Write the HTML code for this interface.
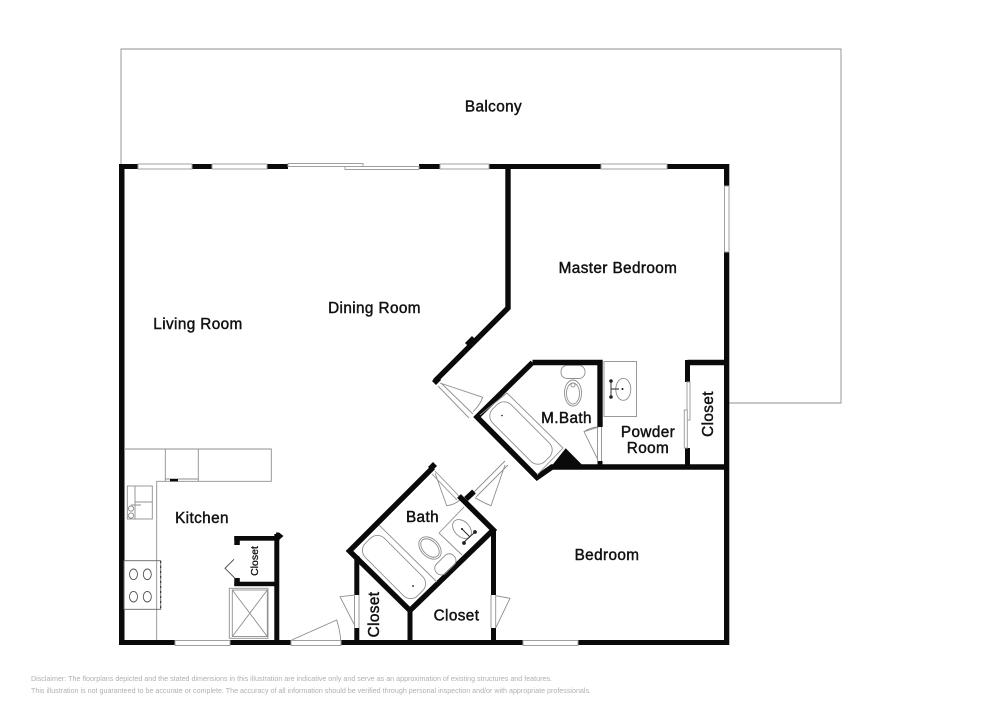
<!DOCTYPE html>
<html><head><meta charset="utf-8"><style>
html,body{margin:0;padding:0;background:#fff;width:1000px;height:707px;overflow:hidden}
svg{display:block}
text{font-family:"Liberation Sans",sans-serif;fill:#111;stroke:#111;stroke-width:.45px}
.t{font-size:15.3px;letter-spacing:.4px;text-anchor:middle}
.d{font-size:7.2px;fill:#b0b0b0;stroke:none}
.k{fill:#0a0a0a;stroke:none}
.w{fill:none;stroke:#0a0a0a;stroke-width:5.4;stroke-linecap:butt;stroke-linejoin:miter}
.g{fill:none;stroke:#8f8f8f;stroke-width:.9}
.g2{fill:#fff;stroke:#a0a0a0;stroke-width:1}
</style></head><body>
<svg width="1000" height="707" viewBox="0 0 1000 707" xmlns="http://www.w3.org/2000/svg">
<path class="g" d="M121 164V49H841V403H729"/>

<!-- outer walls -->
<rect class="k" x="119" y="164" width="5.5" height="481"/>
<rect class="k" x="119" y="164" width="19" height="5"/>
<rect class="k" x="192" y="164" width="20" height="5"/>
<rect class="k" x="267" y="164" width="21" height="5"/>
<rect class="k" x="419" y="164" width="21" height="5"/>
<rect class="k" x="489" y="164" width="112" height="5"/>
<rect class="k" x="667" y="164" width="62" height="5"/>
<rect class="k" x="724" y="164" width="5.3" height="22"/>
<rect class="k" x="724" y="252" width="5.3" height="393"/>
<rect class="g2" x="138" y="164" width="54" height="5"/>
<rect class="g2" x="212" y="164" width="55" height="5"/>
<rect class="g2" x="288" y="163.5" width="75" height="3"/>
<rect class="g2" x="345" y="166.5" width="74" height="3"/>
<rect class="g2" x="440" y="164" width="49" height="5"/>
<rect class="g2" x="601" y="164" width="66" height="5"/>
<rect class="g2" x="724.5" y="186" width="4.5" height="66"/>
<rect class="k" x="119" y="640" width="56" height="5"/>
<rect class="k" x="230" y="640" width="61" height="5"/>
<rect class="k" x="341" y="640" width="182" height="5"/>
<rect class="k" x="578" y="640" width="151" height="5"/>
<rect class="g2" x="175" y="640.5" width="55" height="5"/>
<rect class="g2" x="291" y="640.5" width="50" height="5"/>
<rect class="g2" x="523" y="640.5" width="55" height="5"/>

<!-- dividing wall -->
<path class="w" d="M508 166V308L435 381"/>
<path class="k" d="M465 343l7-7 4 4-7 7z"/>
<path class="k" d="M432 381l5-5 4 4-5 5z"/>
<!-- master bath -->
<path class="w" d="M532.5 362.5H600V427"/>
<path class="w" d="M532.5 362.5L477 417L537 477.5L552 467H729"/>
<rect class="k" x="597.5" y="461" width="5" height="6"/>
<path class="k" d="M550 468L565.7 448.3L583.3 466Z"/>
<!-- m.bath door -->
<path class="g" d="M597.5 427V461M601.5 427V461M599 427L584 431.7L598 460M584 431.7Q589 428 597 427"/>
<!-- tub -->
<path class="g" d="M480 415L507 393L563 448L537 475"/>
<rect class="g" x="-37" y="-13" width="74" height="26" rx="10" transform="translate(521 433) rotate(45)"/>
<circle cx="502" cy="415.5" r=".8" fill="#111"/>
<!-- toilet -->
<rect class="g" x="561" y="365.5" width="24" height="13" rx="6"/>
<ellipse class="g" cx="573" cy="393" rx="8.5" ry="13"/>
<ellipse class="g" cx="573" cy="393.5" rx="6.5" ry="10.5"/>
<circle class="g" cx="573" cy="385" r="2"/>
<!-- powder sink -->
<rect class="g" x="604" y="361.5" width="32.5" height="55"/>
<ellipse class="g" cx="623.3" cy="389.3" rx="7.5" ry="11"/>
<path d="M611 381V397M611 389H619" stroke="#222" stroke-width=".9" fill="none"/>
<circle cx="611" cy="381" r="1.8" fill="#222"/><circle cx="611" cy="397" r="1.8" fill="#222"/><circle cx="622.5" cy="389" r="1" fill="#111"/>
<!-- master closet -->
<path class="w" d="M687.5 362.5H724"/>
<rect class="k" x="685" y="360" width="5" height="22"/>
<rect class="k" x="685" y="448" width="5" height="19"/>
<rect class="g2" x="687" y="382" width="3" height="38"/>
<rect class="g2" x="684.3" y="410" width="3" height="38"/>

<!-- door to master bedroom -->
<path class="g" d="M438 386L469 418M441 383L473 414M440 383L482.7 397.3Q480 405 473 411.7"/>
<!-- doors bath pair -->
<path class="g" d="M472 494L505 461M476 497L508 465M505 465L491 505.7Q484 503 475 497.7"/>
<path class="g" d="M435 471L460 497M432 474L457 500M435 473L446.7 505.7Q454 505 460 500"/>

<!-- bath -->
<path class="w" d="M433 467.5L349.5 551L410 610.5L493.3 530L459 496"/>
<path class="k" d="M428 467l5-5 4 4-5 5z"/>
<path class="w" d="M466 499L474 491.5"/>
<!-- bath fixtures -->
<path class="g" d="M379 525L437 582"/>
<rect class="g" x="-37" y="-13.5" width="74" height="27" rx="10" transform="translate(394 567) rotate(45)"/>
<circle cx="413" cy="586" r=".9" fill="#111"/>
<ellipse class="g" cx="430" cy="548" rx="9" ry="13" transform="rotate(-45 430 548)"/>
<ellipse class="g" cx="430" cy="548" rx="7" ry="11" transform="rotate(-45 430 548)"/>
<rect class="g" x="-12" y="-6" width="24" height="13" rx="6" transform="translate(445 564) rotate(-45)"/>
<path class="g" d="M439 533L464 507M439 533L462 555"/>
<ellipse class="g" cx="462" cy="529" rx="7.5" ry="11" transform="rotate(-45 462 529)"/>
<path d="M462 529L470 537M475 532L463 543" stroke="#222" stroke-width=".9" fill="none"/>
<circle cx="475" cy="532" r="1.9" fill="#222"/><circle cx="464" cy="543" r="1.9" fill="#222"/><circle cx="462" cy="529" r="1" fill="#111"/>

<!-- lower closets -->
<rect class="k" x="354.3" y="556" width="5" height="39"/>
<rect class="k" x="354.3" y="628" width="5" height="14"/>
<rect class="k" x="407.5" y="611" width="5" height="30"/>
<rect class="k" x="491" y="530" width="5" height="65"/>
<rect class="k" x="491" y="628" width="5" height="13"/>
<path class="g" d="M354.5 595V628M359 595V628M355 595L340 596.7L355 626M491 595V628M495.7 595V628M495.7 595.7L510 598.3L495.7 628"/>

<!-- kitchen -->
<path class="g" d="M124 449H271.3V481.3H156.7V640M165.3 449V481.3M198.3 449V481.3M165.3 479H198.3"/>
<rect class="k" x="170" y="479" width="8" height="2.4"/>
<rect class="g" x="127.3" y="486" width="25" height="33"/>
<path class="g" d="M135 486V519M135 502H152.3"/>
<path class="g" d="M131 505H141M131 506a2.6 2.6 0 1 0 .1 0M131 513a2.6 2.6 0 1 0 .1 0"/>
<rect x="124" y="560.7" width="36.7" height="48.6" fill="none" stroke="#666" stroke-width=".9"/>
<path d="M160.7 561V609" stroke="#222" stroke-width="1" stroke-dasharray="2 3" fill="none"/>
<g fill="none" stroke="#555" stroke-width=".9">
<ellipse cx="133.5" cy="574.3" rx="4" ry="5.3"/><ellipse cx="147.3" cy="574.3" rx="4" ry="5.3"/>
<ellipse cx="133.5" cy="596.7" rx="4" ry="5.3"/><ellipse cx="147.3" cy="596.7" rx="4" ry="5.3"/>
</g>
<!-- small closet -->
<rect class="k" x="234.3" y="536" width="45" height="4.7"/>
<rect class="k" x="234.3" y="536" width="5.5" height="9"/>
<rect class="k" x="274.3" y="534" width="5" height="106"/>
<path class="k" d="M276 532.5L279 532.5L283.5 536L279 540L276 540Z"/>
<rect class="k" x="234.3" y="581.7" width="42" height="4.5"/>
<rect class="k" x="234.3" y="578" width="5.5" height="8"/>
<path d="M234 559.3L225 568.3L235 578.3" fill="none" stroke="#444" stroke-width=".9"/>
<!-- fridge -->
<rect class="g" x="229.3" y="588.3" width="38.7" height="50"/>
<rect class="g" x="232.3" y="590" width="35" height="46.5"/>
<path class="g" d="M232.3 590L267.3 636.5M267.3 590L232.3 636.5"/>
<!-- entry door -->
<path class="g" d="M291.7 640L336.7 620Q340 630 340.7 640"/>

<!-- labels -->
<text class="t" x="493.5" y="111.5">Balcony</text>
<text class="t" x="198" y="329">Living Room</text>
<text class="t" x="374.5" y="313">Dining Room</text>
<text class="t" x="618" y="273">Master Bedroom</text>
<text class="t" x="566.5" y="423">M.Bath</text>
<text class="t" x="648" y="437">Powder</text>
<text class="t" x="648" y="453">Room</text>
<text class="t" transform="translate(713 414) rotate(-90)">Closet</text>
<text class="t" x="202" y="523">Kitchen</text>
<text class="t" x="422.5" y="522">Bath</text>
<text class="t" x="607" y="560">Bedroom</text>
<text class="t" x="456.5" y="620.5">Closet</text>
<text class="t" transform="translate(379 614.5) rotate(-90)">Closet</text>
<text class="t" style="font-size:10.5px;letter-spacing:0;stroke-width:.3px" transform="translate(258 561) rotate(-90)">Closet</text>

<text class="d" x="31" y="681" textLength="521" lengthAdjust="spacingAndGlyphs">Disclaimer: The floorplans depicted and the stated dimensions in this illustration are indicative only and serve as an approximation of existing structures and features.</text>
<text class="d" x="31" y="693" textLength="560" lengthAdjust="spacingAndGlyphs">This illustration is not guaranteed to be accurate or complete. The accuracy of all information should be verified through personal inspection and/or with appropriate professionals.</text>
</svg>
</body></html>
